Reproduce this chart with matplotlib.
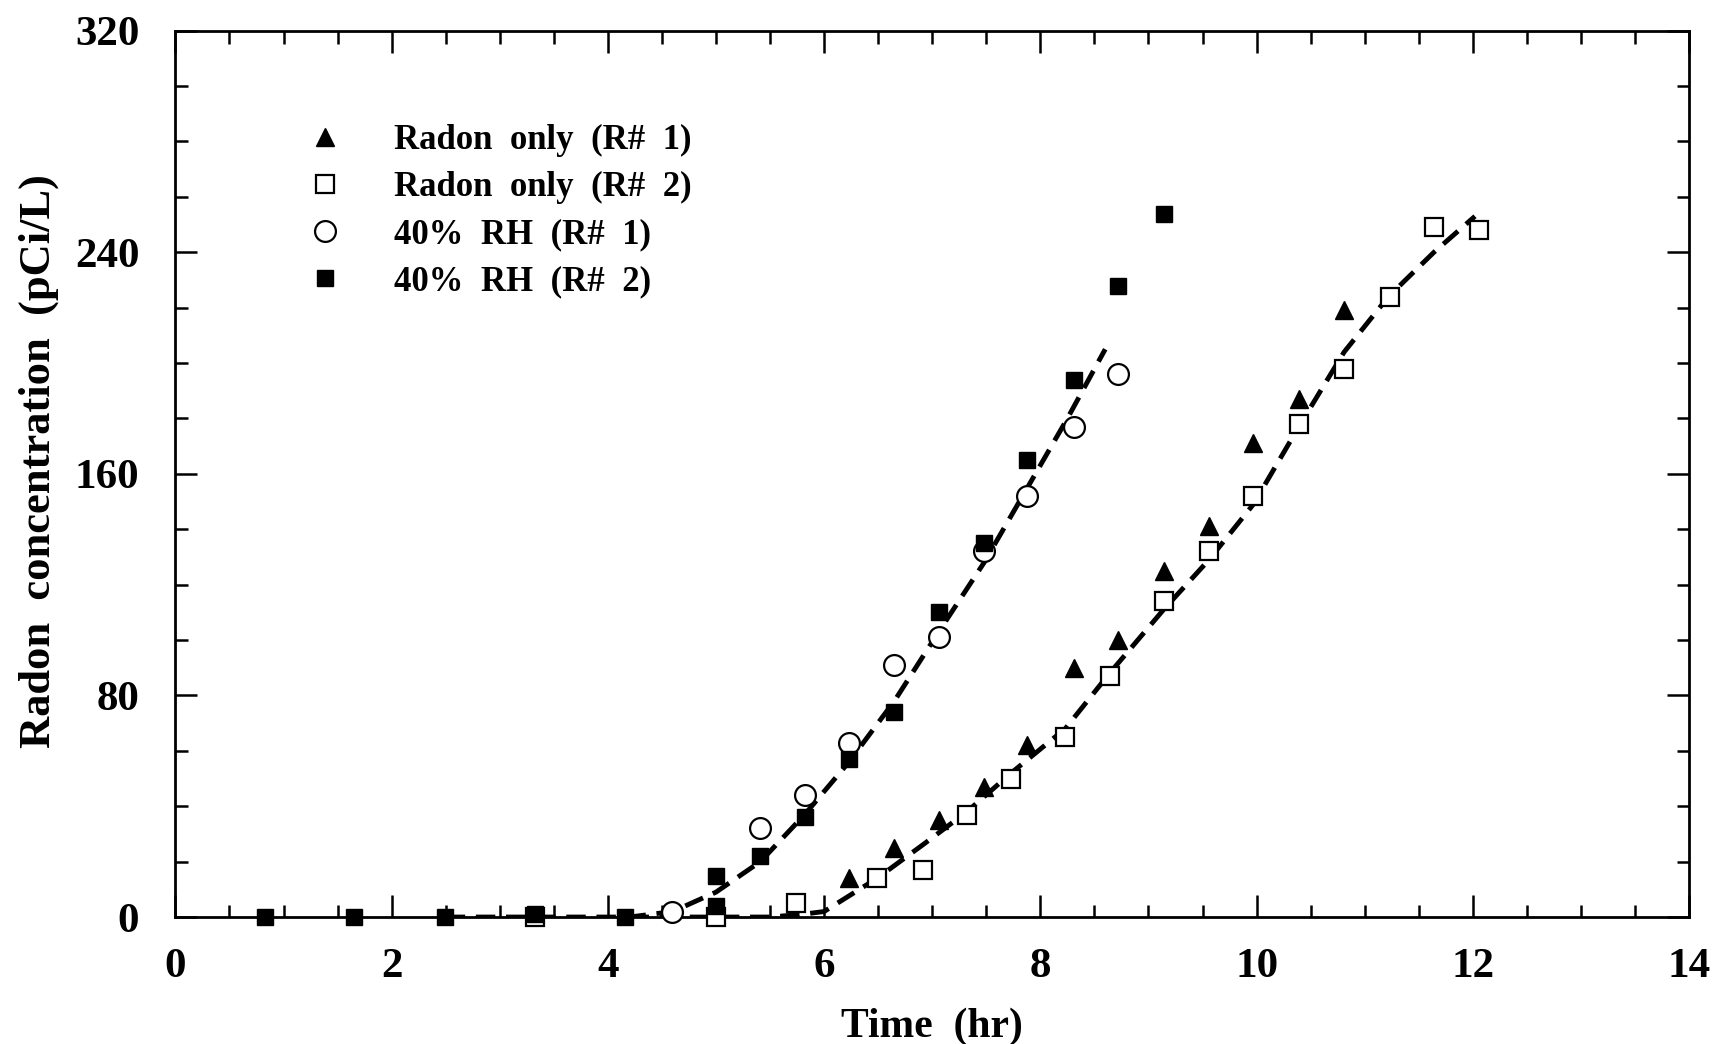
import matplotlib
matplotlib.use("Agg")
import matplotlib.pyplot as plt
from matplotlib.ticker import MultipleLocator

# ---- data ----
tri_x = [6.23, 6.65, 7.06, 7.48, 7.88, 8.31, 8.72, 9.14, 9.56, 9.97, 10.39, 10.81]
tri_y = [14, 25, 35, 47, 62, 90, 100, 125, 141, 171, 187, 219]

osq_x = [3.33, 5.0, 5.74, 6.49, 6.91, 7.32, 7.73, 8.23, 8.64, 9.14, 9.56, 9.97,
         10.39, 10.81, 11.23, 11.64, 12.06]
osq_y = [0, 0, 5, 14, 17, 37, 50, 65, 87, 114, 132, 152, 178, 198, 224, 249, 248]

circ_x = [4.59, 5.41, 5.82, 6.23, 6.65, 7.06, 7.48, 7.88, 8.31, 8.72]
circ_y = [2, 32, 44, 63, 91, 101, 132, 152, 177, 196]

fsq_x = [0.83, 1.65, 2.49, 3.33, 4.16, 5.0, 5.0, 5.41, 5.82, 6.23, 6.65, 7.06,
         7.48, 7.88, 8.31, 8.72, 9.14]
fsq_y = [0, 0, 0, 1, 0, 4, 15, 22, 36, 57, 74, 110, 135, 165, 194, 228, 254]

fit1_x = [2.5, 4.2, 4.6, 5.0, 5.41, 5.82, 6.23, 6.65, 7.06, 7.48, 7.88, 8.25, 8.6]
fit1_y = [0, 0, 2, 9, 20, 37, 56, 78, 103, 128, 155, 180, 205]

fit2_x = [4.2, 5.0, 5.5, 5.8, 6.0, 6.49, 6.91, 7.32, 7.73, 8.23, 8.64, 9.14,
          9.56, 9.97, 10.39, 10.81, 11.22, 11.64, 12.02]
fit2_y = [0, 0, 0, 1, 2, 14, 26, 38, 52, 68, 88, 111, 129, 149, 177, 204, 224, 240, 253]

labels = ["Radon  only  (R#  1)", "Radon  only  (R#  2)", "40%  RH  (R#  1)", "40%  RH  (R#  2)"]

xticks = [0, 2, 4, 6, 8, 10, 12, 14]
yticks = [0, 80, 160, 240, 320]

plt.rcParams['font.family'] = ['Liberation Serif', 'DejaVu Serif']
plt.rcParams['font.weight'] = 'bold'

fig = plt.figure(figsize=(17.2, 10.44), dpi=100)
ax = fig.add_axes([0.102, 0.1216, 0.880, 0.849])

dash = dict(color='black', lw=3.5, linestyle=(0, (4, 2.2)), zorder=2)
ax.plot(fit1_x, fit1_y, **dash)
ax.plot(fit2_x, fit2_y, **dash)

h1, = ax.plot(tri_x, tri_y, '^', color='black', ms=13, ls='none', zorder=3, clip_on=False)
h2, = ax.plot(osq_x, osq_y, 's', mfc='white', mec='black', mew=1.6, ms=13, ls='none',
              zorder=3, clip_on=False)
h3, = ax.plot(circ_x, circ_y, 'o', mfc='white', mec='black', mew=1.6, ms=15, ls='none',
              zorder=4, clip_on=False)
h4, = ax.plot(fsq_x, fsq_y, 's', color='black', ms=12, ls='none', zorder=4, clip_on=False)

ax.set_xlim(0, 14)
ax.set_ylim(0, 320)
ax.set_xticks(xticks)
ax.set_yticks(yticks)
ax.xaxis.set_minor_locator(MultipleLocator(0.5))
ax.yaxis.set_minor_locator(MultipleLocator(20))
ax.tick_params(which='both', direction='in', top=True, right=True, width=1.8)
ax.tick_params(which='major', length=16, labelsize=31)
ax.tick_params(axis='x', which='major', pad=22)
ax.tick_params(axis='y', which='major', pad=26)
ax.tick_params(which='minor', length=9)
for s in ax.spines.values():
    s.set_linewidth(2)
for lab in ax.get_xticklabels() + ax.get_yticklabels():
    lab.set_fontweight('bold')

ax.set_xlabel("Time  (hr)", fontsize=30, fontweight='bold', labelpad=16)
ax.set_ylabel("Radon  concentration  (pCi/L)", fontsize=32, fontweight='bold')
ax.yaxis.set_label_coords(-0.077, 0.515)

leg = ax.legend([h1, h2, h3, h4], labels, loc='upper left', bbox_to_anchor=(0.078, 0.91),
                frameon=False, handlelength=1.0, handletextpad=1.5,
                labelspacing=0.4, borderaxespad=0,
                prop={'weight': 'bold', 'size': 25})

fig.savefig("out.png", dpi=100, facecolor='white')
